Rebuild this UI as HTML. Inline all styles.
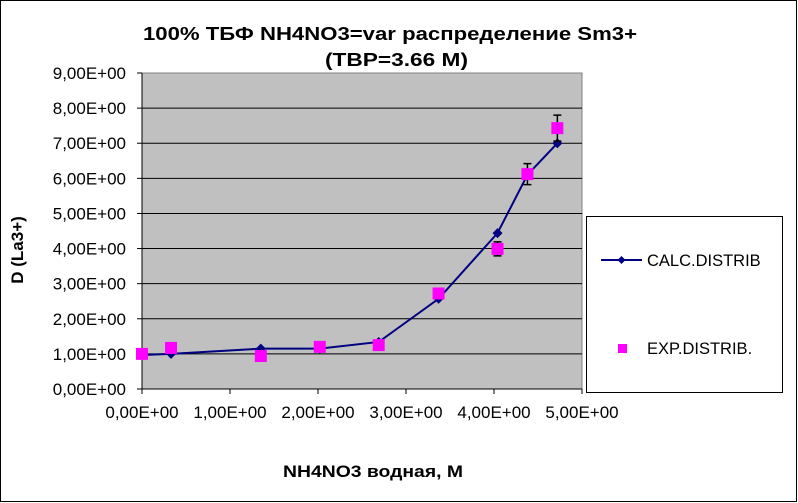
<!DOCTYPE html>
<html><head><meta charset="utf-8"><style>
body{margin:0;background:#fff}
svg{display:block;font-family:"Liberation Sans",Arial,sans-serif}
</style></head><body>
<svg width="798" height="503" viewBox="0 0 798 503">
<rect x="0.5" y="0.5" width="796" height="501" fill="#fff" stroke="#000"/>
<text x="143" y="40" font-size="18.5" font-weight="bold" textLength="494" lengthAdjust="spacingAndGlyphs">100%  ТБФ  NH4NO3=var распределение Sm3+</text>
<text x="325" y="66" font-size="18.5" font-weight="bold" textLength="143" lengthAdjust="spacingAndGlyphs">(TBP=3.66 M)</text>
<rect x="142" y="73" width="440" height="316" fill="#c0c0c0" stroke="#808080"/>
<g id="grid"></g><g id="axes"></g><g id="series"></g>
<text x="283" y="477" font-size="17" font-weight="bold" textLength="180" lengthAdjust="spacingAndGlyphs">NH4NO3  водная, М</text>
<text transform="translate(23,250) rotate(-90)" font-size="17" font-weight="bold" text-anchor="middle">D (La3+)</text>
<g>
<rect x="586.5" y="216.5" width="196" height="176" fill="#fff" stroke="#000"/>
<line x1="601" y1="260" x2="642" y2="260" stroke="#000080" stroke-width="2"/>
<path d="M621.5 256 L625.5 260 L621.5 264 L617.5 260Z" fill="#000080"/>
<text x="647" y="266" font-size="16.5">CALC.DISTRIB</text>
<rect x="618" y="344" width="9" height="9" fill="#ff00ff"/>
<text x="647" y="354" font-size="16.5">EXP.DISTRIB.</text>
</g>
</svg>
<script>
const xTicks=[0,1,2,3,4,5];
const xTickLabels=["0,00E+00","1,00E+00","2,00E+00","3,00E+00","4,00E+00","5,00E+00"];
const yTicks=[0,1,2,3,4,5,6,7,8,9];
const yTickLabels=["0,00E+00","1,00E+00","2,00E+00","3,00E+00","4,00E+00","5,00E+00","6,00E+00","7,00E+00","8,00E+00","9,00E+00"];
const calcX=[0,0.33,1.35,2.02,2.69,3.37,4.04,4.38,4.72];
const calcY=[0.97,1.0,1.15,1.15,1.34,2.57,4.44,6.10,7.0];
const expX=[0,0.33,1.35,2.02,2.69,3.37,4.04,4.38,4.72];
const expY=[1.0,1.17,0.94,1.2,1.25,2.72,3.99,6.12,7.43];
const expErr=[0.05,0.06,0.05,0.06,0.06,0.14,0.2,0.3,0.37];
const NS="http://www.w3.org/2000/svg";
const X=v=>142+v*88, Y=v=>389-v*316/9;
function mk(t,a,p){const e=document.createElementNS(NS,t);for(const k in a)e.setAttribute(k,a[k]);p.appendChild(e);return e;}
const grid=document.getElementById('grid'),axes=document.getElementById('axes'),ser=document.getElementById('series');
yTicks.forEach((v,i)=>{
 if(v>0&&v<9){const l=mk('line',{x1:142,x2:582,y1:Y(v),y2:Y(v),stroke:'#000','stroke-width':1},grid);
 
 }
 mk('line',{x1:137,x2:142,y1:Y(v),y2:Y(v),stroke:'#000'},axes);
 const t=mk('text',{x:126,y:Y(v)+6,'font-size':17,'text-anchor':'end'},axes);t.textContent=yTickLabels[i];
 
 
});
xTicks.forEach((v,i)=>{
 mk('line',{x1:X(v),x2:X(v),y1:389,y2:394,stroke:'#000'},axes);
 const t=mk('text',{x:X(v),y:418,'font-size':17,'text-anchor':'middle'},axes);t.textContent=xTickLabels[i];
 
 
});
mk('line',{x1:142,x2:142,y1:73,y2:389,stroke:'#000'},axes);
mk('line',{x1:142,x2:582,y1:389,y2:389,stroke:'#000'},axes);
const line=mk('polyline',{points:calcX.map((x,i)=>X(x)+','+Y(calcY[i])).join(' '),fill:'none',stroke:'#000080','stroke-width':2},ser);


calcX.forEach((x,i)=>{const cx=X(x),cy=Y(calcY[i]);
 const m=mk('path',{d:`M${cx} ${cy-5}L${cx+5} ${cy}L${cx} ${cy+5}L${cx-5} ${cy}Z`,fill:'#000080'},ser);
 
 
});
expX.forEach((x,i)=>{const cx=X(x),cy=Y(expY[i]),t=Y(expY[i]+expErr[i]),b=Y(expY[i]-expErr[i]);
 const g=mk('path',{d:`M${cx} ${t}V${b}M${cx-4} ${t}H${cx+4}M${cx-4} ${b}H${cx+4}`,stroke:'#000','stroke-width':1.5,fill:'none'},ser);
 
 
 const m=mk('rect',{x:cx-6,y:cy-6,width:12,height:12,fill:'#ff00ff'},ser);
 
 
});
</script>
</body></html>
